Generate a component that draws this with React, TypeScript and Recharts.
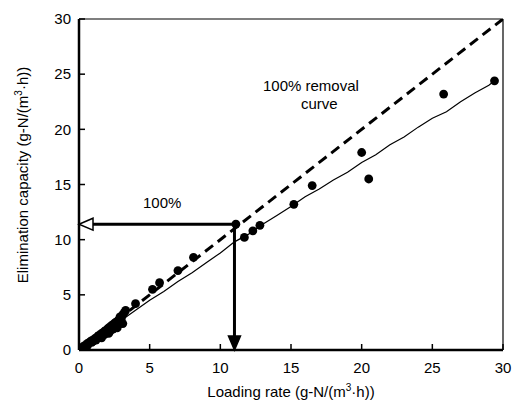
import React from 'react';
import { ComposedChart, Line, Scatter, XAxis, YAxis, ReferenceLine } from 'recharts';

const xTicks = [0, 5, 10, 15, 20, 25, 30];
const yTicks = [0, 5, 10, 15, 20, 25, 30];

// measured loading rate vs elimination capacity
const measuredX = [
  0.2, 0.3, 0.4, 0.5, 0.6, 0.7, 0.8, 0.9, 1.0, 1.1, 1.2, 1.3, 1.4, 1.5, 1.6, 1.7, 1.8, 1.9, 2.0, 2.1,
  2.2, 2.3, 2.4, 2.5, 2.6, 2.7, 2.8, 2.9, 3.0, 3.1, 3.2, 1.0, 1.5, 2.0, 2.5, 3.0, 1.3, 2.4, 2.8,
  0.6, 1.2, 1.8, 2.2, 2.6, 3.3, 2.9, 1.6, 0.9, 2.1, 2.7, 3.1, 1.4, 0.4,
  4.0, 5.2, 5.7, 7.0, 8.1, 11.1, 11.7, 12.3, 12.8, 15.2, 16.5, 20.0, 20.5, 25.8, 29.4,
];
const measuredY = [
  0.2, 0.3, 0.4, 0.45, 0.6, 0.65, 0.75, 0.85, 0.9, 1.0, 1.1, 1.2, 1.3, 1.35, 1.5, 1.55, 1.7, 1.75, 1.9, 2.0,
  2.1, 2.2, 2.3, 2.4, 2.5, 2.6, 2.7, 2.8, 2.9, 3.2, 3.4, 0.8, 1.2, 1.6, 2.0, 2.5, 1.05, 1.9, 2.3,
  0.4, 0.9, 1.4, 1.7, 2.1, 3.6, 3.0, 1.1, 0.7, 1.5, 2.0, 2.4, 1.3, 0.25,
  4.2, 5.5, 6.1, 7.2, 8.4, 11.4, 10.2, 10.8, 11.3, 13.2, 14.9, 17.9, 15.5, 23.2, 24.4,
];

// fitted curve (thin solid line)
const fitX = [0, 1, 2, 3, 4, 5, 6, 7, 8, 9, 10, 11, 12, 13, 14, 15, 16, 17, 18, 19, 20, 21, 22, 23, 24, 25, 26, 27, 28, 29, 29.4];
const fitY = [0, 0.95, 1.85, 2.7, 3.6, 4.5, 5.3, 6.2, 7.0, 7.9, 8.8, 9.8, 10.5, 11.4, 12.2, 13.0, 13.9, 14.6, 15.4, 16.1, 17.0, 17.7, 18.6, 19.3, 20.2, 21.0, 21.6, 22.5, 23.3, 24.0, 24.4];

// 100% removal line
const idealX = [0, 30];
const idealY = [0, 30];

const arrowX = 11;
const arrowY = 11.4;

const measured = measuredX.map((x, i) => ({ x, y: measuredY[i] }));
const fit = fitX.map((x, i) => ({ x, y: fitY[i] }));
const ideal = idealX.map((x, i) => ({ x, y: idealY[i] }));

const font = '"Liberation Sans", Arial, sans-serif';

function Arrow(props: any) {
  const { x1, y1, x2, y2, filled } = props;
  const dx = x2 - x1;
  const dy = y2 - y1;
  const len = Math.sqrt(dx * dx + dy * dy) || 1;
  const ux = dx / len;
  const uy = dy / len;
  const headL = 14;
  const headW = 6;
  const bx = x2 - ux * headL;
  const by = y2 - uy * headL;
  const pts = `${x2},${y2} ${bx - uy * headW},${by + ux * headW} ${bx + uy * headW},${by - ux * headW}`;
  return (
    <g>
      <line x1={x1} y1={y1} x2={bx} y2={by} stroke="#000" strokeWidth={3} />
      <polygon points={pts} fill={filled ? '#000' : '#fff'} stroke="#000" strokeWidth={1.5} />
    </g>
  );
}

export default function App() {
  return (
    <div style={{ position: 'absolute', left: 0, top: 0, width: 517, height: 403, background: '#fff', fontFamily: font }}>
      <ComposedChart width={517} height={403} margin={{ top: 19, right: 14, bottom: 23, left: 0 }}>
        <XAxis
          type="number"
          dataKey="x"
          domain={[0, 30]}
          ticks={xTicks}
          allowDataOverflow
          height={30}
          stroke="#000"
          axisLine={{ stroke: '#000', strokeWidth: 2.5 }}
          tickLine={{ stroke: '#000', strokeWidth: 1.5 }}
          tickSize={-6}
          tickMargin={18}
          tick={{ fill: '#000', fontSize: 15, fontFamily: font }}
        />
        <YAxis
          type="number"
          dataKey="y"
          domain={[0, 30]}
          ticks={yTicks}
          allowDataOverflow
          width={79}
          stroke="#000"
          axisLine={{ stroke: '#000', strokeWidth: 2.5 }}
          tickLine={{ stroke: '#000', strokeWidth: 1.5 }}
          tickSize={-6}
          tickMargin={14}
          tick={{ fill: '#000', fontSize: 15, fontFamily: font }}
        />
        <ReferenceLine y={30} stroke="#000" strokeWidth={1.2} />
        <ReferenceLine x={30} stroke="#000" strokeWidth={1.2} />
        <Line
          data={ideal}
          dataKey="y"
          type="linear"
          stroke="#000"
          strokeWidth={3}
          strokeDasharray="10 6"
          dot={false}
          isAnimationActive={false}
        />
        <Line
          data={fit}
          dataKey="y"
          type="linear"
          stroke="#000"
          strokeWidth={1.2}
          dot={false}
          isAnimationActive={false}
        />
        <Scatter data={measured} dataKey="y" fill="#000" shape={(p: any) => <circle cx={p.cx} cy={p.cy} r={4.4} fill="#000" />} isAnimationActive={false} />
        <ReferenceLine
          segment={[{ x: arrowX, y: arrowY }, { x: 0, y: arrowY }]}
          shape={(p: any) => <Arrow {...p} filled={false} />}
        />
        <ReferenceLine
          segment={[{ x: arrowX, y: arrowY }, { x: arrowX, y: 0 }]}
          shape={(p: any) => <Arrow {...p} filled />}
        />
      </ComposedChart>
      <div style={{ position: 'absolute', left: 263, top: 77, fontSize: 15, lineHeight: '18px', color: '#000' }}>
        100% removal<br />
        <span style={{ paddingLeft: 38 }}>curve</span>
      </div>
      <div style={{ position: 'absolute', left: 143, top: 194, fontSize: 15, color: '#000' }}>100%</div>
      <div style={{ position: 'absolute', left: 0, top: 382, width: 582, textAlign: 'center', fontSize: 15, color: '#000' }}>
        Loading rate (g-N/(m<sup style={{ fontSize: 10 }}>3</sup>·h))
      </div>
      <div
        style={{
          position: 'absolute',
          left: 22,
          top: 175,
          transform: 'translate(-50%, -50%) rotate(-90deg)',
          whiteSpace: 'nowrap',
          fontSize: 15,
          color: '#000',
        }}
      >
        Elimination capacity (g-N/(m<sup style={{ fontSize: 10 }}>3</sup>·h))
      </div>
    </div>
  );
}
